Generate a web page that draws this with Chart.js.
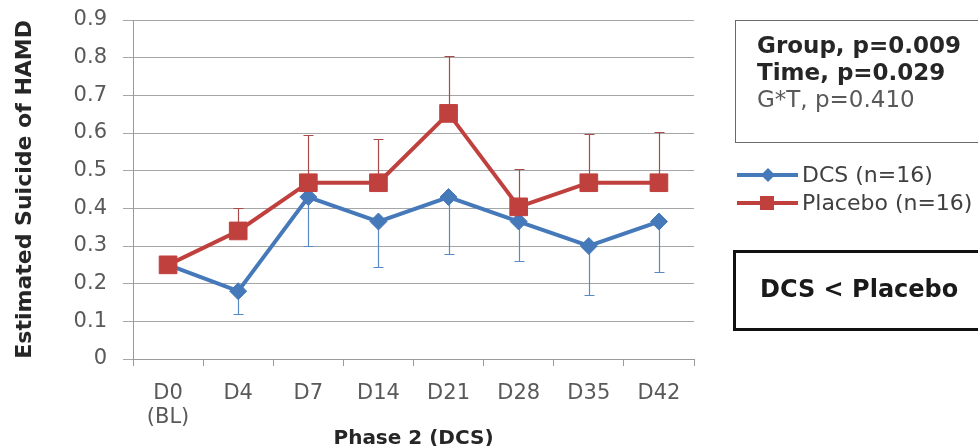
<!DOCTYPE html>
<html>
<head>
<meta charset="utf-8">
<script src="https://cdn.jsdelivr.net/npm/chart.js@4.4.1/dist/chart.umd.min.js"></script>
<style>
  html, body { margin: 0; padding: 0; background: #fff; }
  #wrap { position: relative; width: 978px; height: 446px; overflow: hidden; font-family: "DejaVu Sans", sans-serif; }
  #chart { position: absolute; left: 0; top: 0; }
  .box1 { position: absolute; left: 735px; top: 20px; width: 270px; height: 123px; border: 1.5px solid #6a6a6a; box-sizing: border-box; }
  .stat { position: absolute; left: 757px; font-size: 23px; line-height: 27px; color: #262626; white-space: nowrap; }
  .stat.b { font-weight: bold; }
  .stat.r { color: #595959; }
  .leg { position: absolute; left: 737px; height: 28px; white-space: nowrap; }
  .leg .ln { position: absolute; left: 0; top: 12px; width: 61px; height: 4px; }
  .leg .mk { position: absolute; }
  .leg .tx { position: absolute; left: 65px; top: 0; font-size: 22px; line-height: 28px; color: #404040; }
  .box2 { position: absolute; left: 733px; top: 250px; width: 270px; height: 81px; border: 3px solid #111; box-sizing: border-box; }
  .box2 span { position: absolute; left: 24px; top: 21px; font-size: 24px; line-height: 30px; font-weight: bold; color: #1a1a1a; white-space: nowrap; }
</style>
</head>
<body>
<div id="wrap">
  <canvas id="chart" width="978" height="446"></canvas>
  <div class="box1"></div>
  <div class="stat b" style="top:32px">Group, p=0.009</div>
  <div class="stat b" style="top:59px">Time, p=0.029</div>
  <div class="stat r" style="top:86px">G*T, p=0.410</div>
  <div id="legend"></div>
  <div class="box2"><span>DCS &lt; Placebo</span></div>
</div>
<script>
// ---- data ----
const categories = [['D0', '(BL)'], 'D4', 'D7', 'D14', 'D21', 'D28', 'D35', 'D42'];
const dcsMean = [0.25, 0.18, 0.43, 0.365, 0.43, 0.365, 0.30, 0.365];
const dcsLower = [null, 0.12, 0.30, 0.245, 0.28, 0.26, 0.17, 0.23];
const placeboMean = [0.25, 0.34, 0.468, 0.468, 0.652, 0.404, 0.468, 0.468];
const placeboUpper = [null, 0.40, 0.595, 0.585, 0.805, 0.505, 0.598, 0.602];
const yTickLabels = ['0', '0.1', '0.2', '0.3', '0.4', '0.5', '0.6', '0.7', '0.8', '0.9'];
const seriesNames = ['DCS (n=16)', 'Placebo (n=16)'];
const statLines = ['Group, p=0.009', 'Time, p=0.029', 'G*T, p=0.410'];

const DCS_COLOR = '#4679b9';
const PLA_COLOR = '#c0403e';
const DCS_ERR = '#5a8ac6';
const PLA_ERR = '#a84a4a';

const errorBars = {
  id: 'errorBars',
  beforeDatasetsDraw(chart) {
    const { ctx, scales: { x, y } } = chart;
    const sets = [
      { mean: dcsMean, bound: dcsLower, color: DCS_ERR },
      { mean: placeboMean, bound: placeboUpper, color: PLA_ERR }
    ];
    ctx.save();
    ctx.lineWidth = 1.2;
    sets.forEach(s => {
      ctx.strokeStyle = s.color;
      s.mean.forEach((m, i) => {
        const b = s.bound[i];
        if (b === null || b === undefined) return;
        const px = Math.round(x.getPixelForValue(i)) + 0.5;
        const y0 = y.getPixelForValue(m);
        const y1 = Math.round(y.getPixelForValue(b)) + 0.5;
        ctx.beginPath();
        ctx.moveTo(px, y0);
        ctx.lineTo(px, y1);
        ctx.moveTo(px - 5, y1);
        ctx.lineTo(px + 5, y1);
        ctx.stroke();
      });
    });
    ctx.restore();
  }
};

const chart = new Chart(document.getElementById('chart'), {
  type: 'line',
  data: {
    labels: categories,
    datasets: [
      {
        label: seriesNames[0],
        data: dcsMean,
        borderColor: DCS_COLOR,
        backgroundColor: DCS_COLOR,
        borderWidth: 4,
        pointStyle: 'rectRot',
        pointRadius: 8.5,
        pointBorderWidth: 1,
        tension: 0,
        order: 2
      },
      {
        label: seriesNames[1],
        data: placeboMean,
        borderColor: PLA_COLOR,
        backgroundColor: PLA_COLOR,
        borderWidth: 4,
        pointStyle: 'rect',
        pointRadius: 12.5,
        pointBorderWidth: 1,
        tension: 0,
        order: 1
      }
    ]
  },
  options: {
    responsive: false,
    animation: false,
    events: [],
    layout: { padding: { left: 0, top: 20, right: 284, bottom: 0 } },
    plugins: { legend: { display: false }, tooltip: { enabled: false } },
    scales: {
      x: {
        offset: true,
        grid: { drawOnChartArea: false, drawTicks: true, tickLength: 7, offset: true, color: '#9a9a9a' },
        border: { display: true, color: '#9a9a9a' },
        ticks: { color: '#595959', padding: 16, font: { family: 'DejaVu Sans', size: 21, lineHeight: 1.12 } },
        title: { display: true, text: 'Phase 2 (DCS)', color: '#262626', padding: { top: 0, bottom: 0 },
                 font: { family: 'DejaVu Sans', size: 20, weight: 'bold', lineHeight: 0.7 } },
        afterFit(s) { s.height = 87; }
      },
      y: {
        min: 0, max: 0.9,
        grid: { color: '#a6a6a6', lineWidth: 1, drawTicks: true, tickLength: 10 },
        border: { display: true, color: '#9a9a9a' },
        ticks: {
          stepSize: 0.1, color: '#595959', padding: 16,
          font: { family: 'DejaVu Sans', size: 21 },
          callback: (v, i) => yTickLabels[i]
        },
        title: { display: true, text: 'Estimated Suicide of HAMD', color: '#262626', align: 'end', padding: { top: 12, bottom: 0 },
                 font: { family: 'DejaVu Sans', size: 22, weight: 'bold' } },
        afterFit(s) { s.width = 133; s.paddingTop = 0; s.paddingBottom = 0; }
      }
    }
  },
  plugins: [errorBars]
});

// HTML legend built from the chart's datasets
const legend = document.getElementById('legend');
const legTops = [161, 189];
chart.data.datasets.forEach((ds, i) => {
  const item = document.createElement('div');
  item.className = 'leg';
  item.style.top = legTops[i] + 'px';
  const ln = document.createElement('div');
  ln.className = 'ln';
  ln.style.background = ds.borderColor;
  const mk = document.createElement('div');
  mk.className = 'mk';
  mk.style.background = ds.borderColor;
  if (ds.pointStyle === 'rectRot') {
    Object.assign(mk.style, { left: '26px', top: '9px', width: '10px', height: '10px', transform: 'rotate(45deg)' });
  } else {
    Object.assign(mk.style, { left: '23px', top: '7px', width: '14px', height: '14px' });
  }
  const tx = document.createElement('div');
  tx.className = 'tx';
  tx.textContent = ds.label;
  item.appendChild(ln); item.appendChild(mk); item.appendChild(tx);
  legend.appendChild(item);
});
</script>
</body>
</html>
